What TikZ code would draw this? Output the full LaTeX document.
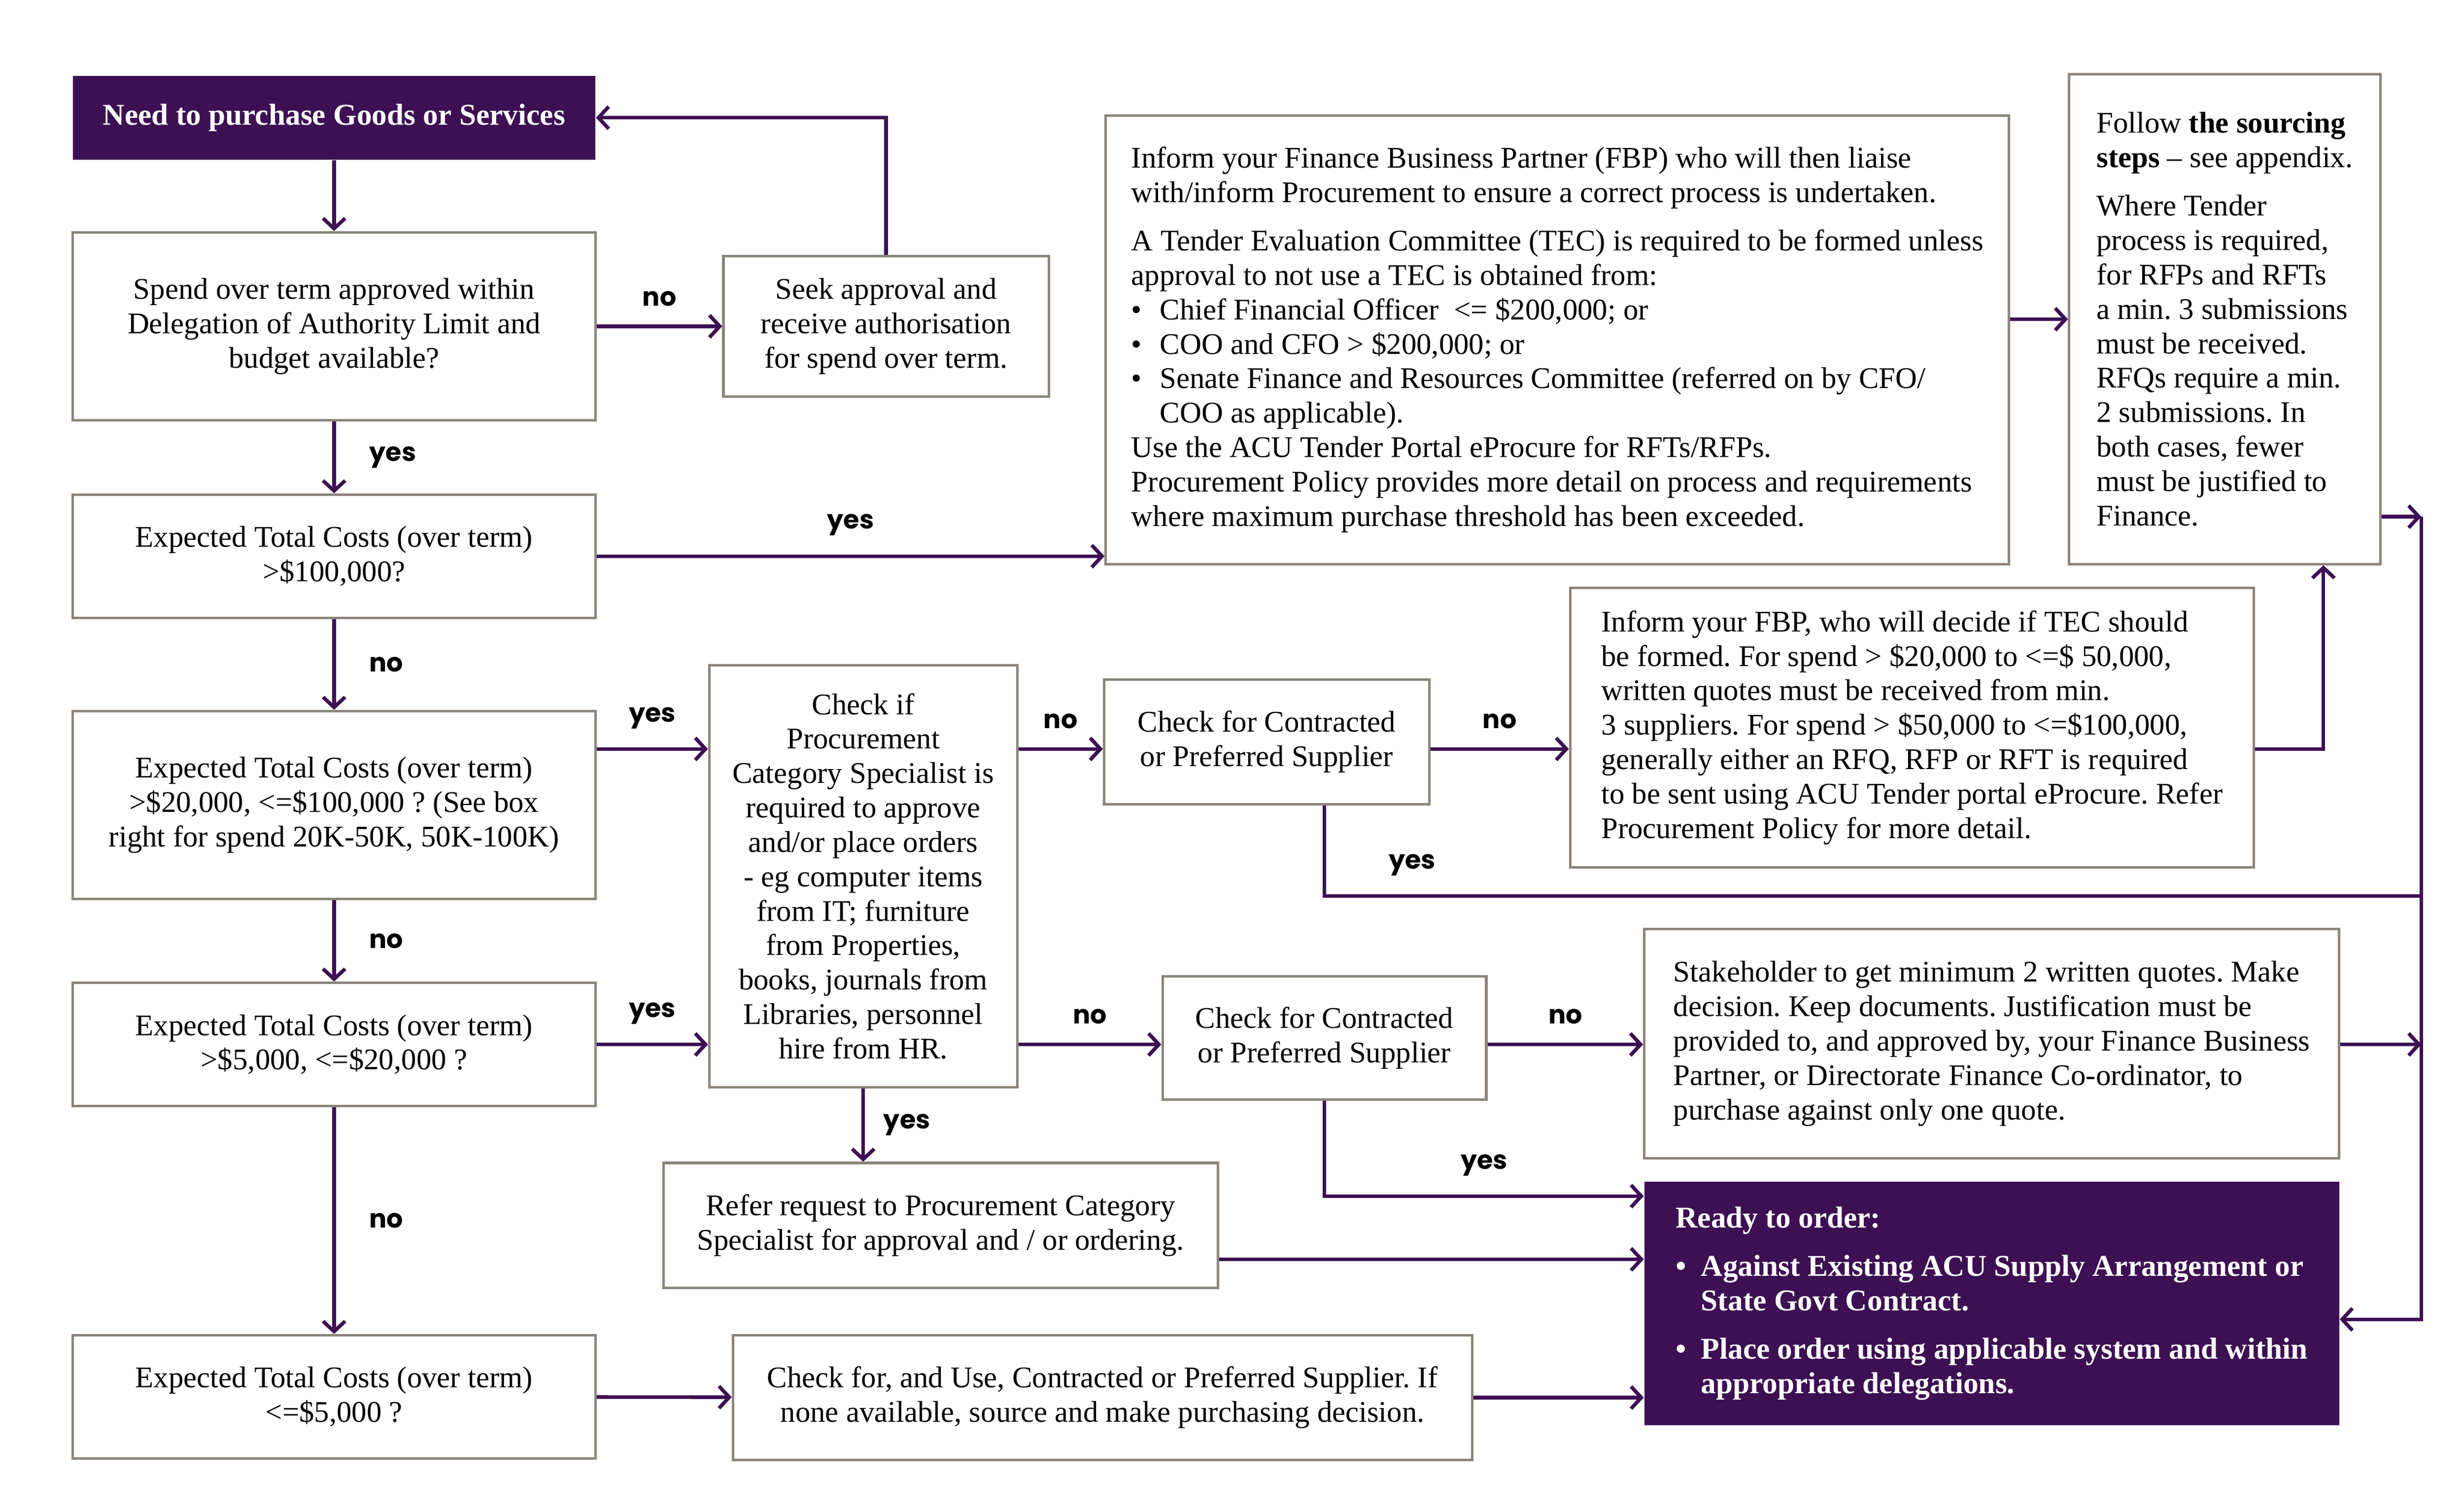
\documentclass[tikz,border=0pt]{standalone}
\usepackage{fontspec}
\setmainfont{Liberation Serif}
\newfontfamily\lblfont{Poppins}
\usetikzlibrary{arrows.meta}
\definecolor{acupurple}{RGB}{61,16,83}
\definecolor{boxgray}{RGB}{139,133,124}
\newcommand{\bul}[1]{\makebox[#1][l]{\textbullet}}
\frenchspacing

\begin{document}
\begin{tikzpicture}[x=0.02cm,y=-0.02cm,
  box/.style={draw=boxgray, line width=0.9pt, fill=white, align=center, inner sep=0pt, font=\fontsize{10.8}{12.4}\selectfont},
  darkbox/.style={fill=acupurple, text=white, inner sep=0pt, font=\fontsize{10.9}{12.4}\selectfont\bfseries},
  arr/.style={draw=acupurple, line width=1.3pt, -{Straight Barb[length=1.3mm,width=2.8mm]}},
  link/.style={draw=acupurple, line width=1.3pt},
  lbl/.style={font=\lblfont\bfseries\fontsize{9.3}{10}\selectfont, inner sep=1pt}]
\useasboundingbox (0,0) rectangle (1560,956);

\node[darkbox, minimum width=6.62cm, minimum height=1.06cm] (need) at (211.5,74.5) {Need to purchase Goods or Services};
\node[box, minimum width=6.62cm, minimum height=2.38cm] (spend) at (211.5,206.5) {Spend over term approved within\\Delegation of Authority Limit and\\budget available?};
\node[box, minimum width=4.12cm, minimum height=1.78cm] (seek) at (561,206.5) {Seek approval and\\receive authorisation\\for spend over term.};
\node[box, minimum width=6.62cm, minimum height=1.56cm] (exp100) at (211.5,352) {Expected Total Costs (over term)\\>\$100,000?};
\node[box, align=left, minimum width=11.44cm, minimum height=5.68cm] (inform) at (986,215) {Inform your Finance Business Partner (FBP) who will then liaise\\with/inform Procurement to ensure a correct process is undertaken.\\[5pt]A Tender Evaluation Committee (TEC) is required to be formed unless\\approval to not use a TEC is obtained from:\\\bul{0.36cm}Chief Financial Officer\ \ <= \$200,000; or\\\bul{0.36cm}COO and CFO > \$200,000; or\\\bul{0.36cm}Senate Finance and Resources Committee (referred on by CFO/\\\hspace*{0.36cm}COO as applicable).\\Use the ACU Tender Portal eProcure for RFTs/RFPs.\\Procurement Policy provides more detail on process and requirements\\where maximum purchase threshold has been exceeded.};
\node[box, align=left, minimum width=3.94cm, minimum height=6.2cm] (follow) at (1408.5,202) {Follow \textbf{the sourcing}\\\textbf{steps} -- see appendix.\\[5pt]Where Tender\\process is required,\\for RFPs and RFTs\\a min. 3 submissions\\must be received.\\RFQs require a min.\\2 submissions. In\\both cases, fewer\\must be justified to\\Finance.};
\node[box, minimum width=6.62cm, minimum height=2.38cm] (exp20) at (211.5,509.5) {Expected Total Costs (over term)\\>\$20,000, <=\$100,000 ? (See box\\right for spend 20K-50K, 50K-100K)};
\node[box, minimum width=3.9cm, minimum height=5.34cm] (checkif) at (546.5,554.5) {Check if\\Procurement\\Category Specialist is\\required to approve\\and/or place orders\\- eg computer items\\from IT; furniture\\from Properties,\\books, journals from\\Libraries, personnel\\hire from HR.};
\node[box, minimum width=4.12cm, minimum height=1.58cm] (contr1) at (802,469.5) {Check for Contracted\\or Preferred Supplier};
\node[box, align=left, minimum width=8.66cm, minimum height=3.54cm] (inform2) at (1210.5,460.5) {Inform your FBP, who will decide if TEC should\\be formed. For spend > \$20,000 to <=\$ 50,000,\\written quotes must be received from min.\\3 suppliers. For spend > \$50,000 to <=\$100,000,\\generally either an RFQ, RFP or RFT is required\\to be sent using ACU Tender portal eProcure. Refer\\Procurement Policy for more detail.};
\node[box, minimum width=6.62cm, minimum height=1.56cm] (exp5) at (211.5,661) {Expected Total Costs (over term)\\>\$5,000, <=\$20,000 ?};
\node[box, minimum width=4.1cm, minimum height=1.56cm] (contr2) at (838.5,657) {Check for Contracted\\or Preferred Supplier};
\node[box, align=left, minimum width=8.8cm, minimum height=2.9cm] (stake) at (1261,660.5) {Stakeholder to get minimum 2 written quotes. Make\\decision. Keep documents. Justification must be\\provided to, and approved by, your Finance Business\\Partner, or Directorate Finance Co-ordinator, to\\purchase against only one quote.};
\node[box, minimum width=7.02cm, minimum height=1.58cm] (refer) at (595.5,775.5) {Refer request to Procurement Category\\Specialist for approval and / or ordering.};
\node[darkbox, align=left, minimum width=8.8cm, minimum height=3.08cm] (ready) at (1261,825) {Ready to order:\\[5pt]\bul{0.32cm}Against Existing ACU Supply Arrangement or\\\hspace*{0.32cm}State Govt Contract.\\[5pt]\bul{0.32cm}Place order using applicable system and within\\\hspace*{0.32cm}appropriate delegations.};
\node[box, minimum width=6.62cm, minimum height=1.56cm] (exp5000) at (211.5,884) {Expected Total Costs (over term)\\<=\$5,000 ?};
\node[box, minimum width=9.36cm, minimum height=1.58cm] (checkfor) at (698,884.5) {Check for, and Use, Contracted or Preferred Supplier. If\\none available, source and make purchasing decision.};

\coordinate (row1) at (0,474);
\coordinate (row2) at (0,661);
\coordinate (row3) at (0,757);
\coordinate (row4) at (0,797);
\coordinate (bustop) at (1533,327);
\coordinate (busmid) at (1533,567);
\coordinate (busend) at (1533,835);
\coordinate (turn) at (1471,474);

\draw[arr] (need) -- (spend);
\draw[arr] (seek.north) |- (need.east);
\draw[arr] (spend) -- (seek) node[lbl, midway, above=0.2cm] {no};
\draw[arr] (spend) -- (exp100) node[lbl, midway, right=0.39cm] {yes};
\draw[arr] (exp100.east) -- (exp100.east -| inform.west) node[lbl, midway, above=0.2cm] {yes};
\draw[arr] (exp100) -- (exp20) node[lbl, midway, right=0.39cm] {no};
\draw[arr] (inform.east |- follow) -- (follow.west);
\draw[arr] (exp20.east |- row1) -- (checkif.west |- row1) node[lbl, midway, above=0.2cm] {yes};
\draw[arr] (exp20) -- (exp5) node[lbl, midway, right=0.39cm] {no};
\draw[arr] (exp5.east |- row2) -- (checkif.west |- row2) node[lbl, midway, above=0.2cm] {yes};
\draw[arr] (exp5) -- (exp5000) node[lbl, midway, right=0.39cm] {no};
\draw[arr] (checkif.east |- row1) -- (contr1.west |- row1) node[lbl, midway, above=0.2cm] {no};
\draw[arr] (contr1.east |- row1) -- (inform2.west |- row1) node[lbl, midway, above=0.2cm] {no};
\draw[link] (contr1.south -| contr2.south) |- (busmid) node[lbl, pos=0.54, above=0.2cm] {yes};
\draw[arr] (inform2.east |- turn) -- (turn) -- (turn |- follow.south);
\draw[arr] (follow.east |- bustop) -- (bustop);
\draw[arr] (bustop) -- (busend) -- (busend -| ready.east);
\draw[arr] (checkif.east |- row2) -- (contr2.west |- row2) node[lbl, midway, above=0.2cm] {no};
\draw[arr] (contr2.east |- row2) -- (stake.west |- row2) node[lbl, midway, above=0.2cm] {no};
\draw[arr] (stake.east |- row2) -- (bustop |- row2);
\draw[arr] (contr2.south) |- (ready.west |- row3) node[lbl, pos=0.75, above=0.2cm] {yes};
\draw[arr] (checkif.south) -- (refer.north -| checkif.south) node[lbl, midway, right=0.2cm] {yes};
\draw[arr] (refer.east |- row4) -- (ready.west |- row4);
\draw[arr] (exp5000) -- (checkfor);
\draw[arr] (checkfor.east) -- (checkfor.east -| ready.west);
\end{tikzpicture}
\end{document}
